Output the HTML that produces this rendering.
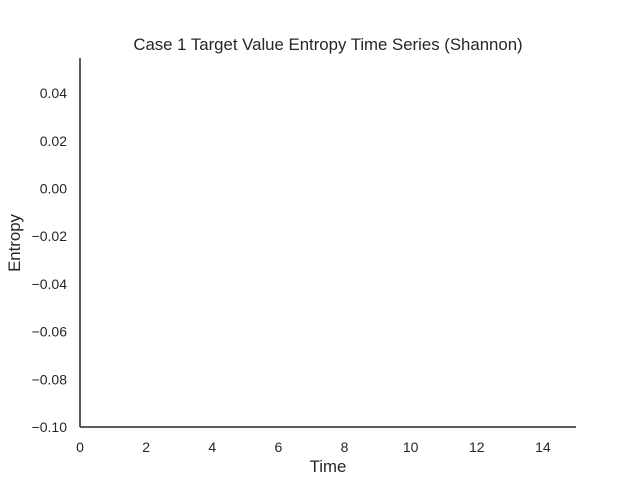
<!DOCTYPE html>
<html><head><meta charset="utf-8"><style>
html,body{margin:0;padding:0;background:#fff;}
svg text{font-family:"Liberation Sans","DejaVu Sans",sans-serif;fill:#262626;}
</style></head><body>
<svg id="chart" width="640" height="480">
<text x="328" y="50" text-anchor="middle" font-size="16.8">Case 1 Target Value Entropy Time Series (Shannon)</text>
<g id="xticks"></g>
<g id="yticks"></g>
<g id="series"></g>
<line x1="80" y1="58" x2="80" y2="427" stroke="#262626" stroke-width="1.5"/>
<line x1="80" y1="427" x2="576" y2="427" stroke="#262626" stroke-width="1.5"/>
<text x="328" y="472" text-anchor="middle" font-size="16.8">Time</text>
<text transform="translate(20,243) rotate(-90)" text-anchor="middle" font-size="16.8">Entropy</text>
</svg>
<script>
const xTicks = [0, 2, 4, 6, 8, 10, 12, 14];
const yTicks = [0.04, 0.02, 0.00, -0.02, -0.04, -0.06, -0.08, -0.10];
const times = [];
const entropyValues = [];
const xDomain = [0, 15], yDomain = [-0.10, 0.0547];
function xs(v){return 80 + (v - xDomain[0]) / (xDomain[1] - xDomain[0]) * 496;}
function ys(v){return 427 - (v - yDomain[0]) / (yDomain[1] - yDomain[0]) * 369;}
const NS = "http://www.w3.org/2000/svg";
const gx = document.getElementById('xticks');
xTicks.forEach(function(t){
  const el = document.createElementNS(NS,'text');
  el.setAttribute('x', xs(t)); el.setAttribute('y', 452);
  el.setAttribute('text-anchor','middle'); el.setAttribute('font-size','14');
  el.textContent = String(t);
  
  
  gx.appendChild(el);
});
const gy = document.getElementById('yticks');
yTicks.forEach(function(t){
  const el = document.createElementNS(NS,'text');
  el.setAttribute('x', 67); el.setAttribute('y', ys(t) + 5);
  el.setAttribute('text-anchor','end'); el.setAttribute('font-size','14');
  el.textContent = (t < 0 ? '\u2212' : '') + Math.abs(t).toFixed(2);
  
  
  gy.appendChild(el);
});
if (times.length) {
  const p = document.createElementNS(NS,'polyline');
  p.setAttribute('points', times.map(function(t,i){return xs(t)+','+ys(entropyValues[i]);}).join(' '));
  p.setAttribute('fill','none'); p.setAttribute('stroke','#4c72b0'); p.setAttribute('stroke-width','1.5');
  
  
  document.getElementById('series').appendChild(p);
}
</script>
</body></html>
